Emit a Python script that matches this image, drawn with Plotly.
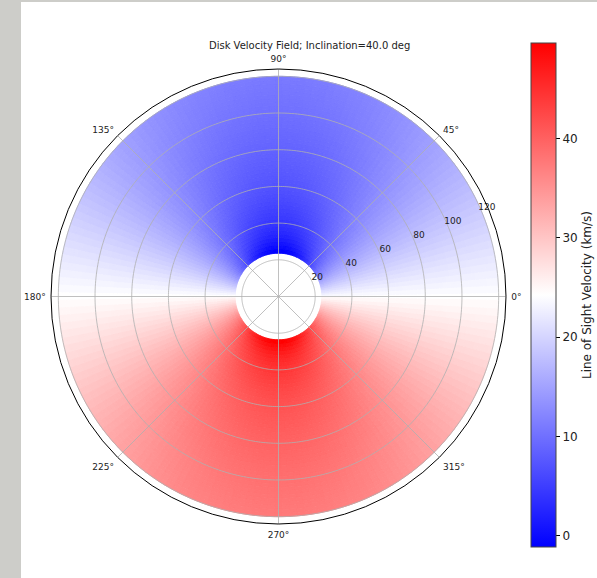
import numpy as np
import plotly.graph_objects as go

W, H = 597, 578
MR = 60                 # right margin reserved for the colorbar
PW = W - MR             # paper width in pixels

# Projected (line-of-sight) rotation amplitude for each annulus of the disk, km/s
ring_inner = [23.6, 26, 28, 30, 32, 34, 36, 38, 40, 42, 44, 46, 48, 50, 52, 54,
              56, 58, 60, 62, 64, 66, 68, 70, 72, 74, 76, 78, 80, 82, 84, 86,
              88, 90, 92, 94, 96, 98, 100, 102, 104, 106, 108, 110, 112, 114, 116, 118]
los_amplitude = [25.4, 24.3, 23.4, 22.6, 21.9, 21.3, 20.8, 20.3, 19.9, 19.5, 19.2, 18.9,
                 18.6, 18.3, 18.0, 17.8, 17.5, 17.3, 17.1, 16.9, 16.7, 16.55, 16.4, 16.25,
                 16.1, 15.95, 15.8, 15.65, 15.5, 15.35, 15.2, 15.1, 15.0, 14.85, 14.7, 14.6,
                 14.5, 14.35, 14.2, 14.1, 14.0, 13.9, 13.8, 13.7, 13.6, 13.5, 13.4, 13.3]
disk_outer_radius = 120
systemic_velocity = 24.25
inclination_deg = 40.0

# Azimuthal cells (degrees)
theta_step = 2
theta_centres = np.arange(0, 360, theta_step)

radial_ticks = [20, 40, 60, 80, 100, 120]
angle_ticks = [0, 45, 90, 135, 180, 225, 270, 315]
colorbar_ticks = [0, 10, 20, 30, 40]
r_max = 124
label_angle = 22.5

GRID = "#b0b0b0"
FONT = "DejaVu Sans"

ring_edges = list(ring_inner) + [disk_outer_radius]
ring_widths = np.diff(ring_edges)

# Build the velocity field: receding side at 270°, approaching side at 90°
thetas, bases, lengths, values = [], [], [], []
for r0, dr, amp in zip(ring_inner, ring_widths, los_amplitude):
    v = systemic_velocity - amp * np.sin(np.radians(theta_centres))
    thetas.append(theta_centres)
    bases.append(np.full(theta_centres.size, r0))
    lengths.append(np.full(theta_centres.size, dr))
    values.append(v)
thetas = np.concatenate(thetas)
bases = np.concatenate(bases)
lengths = np.concatenate(lengths)
values = np.concatenate(values)

vmin, vmax = values.min(), values.max()
bwr = [[0.0, "rgb(0,0,255)"], [0.5, "rgb(255,255,255)"], [1.0, "rgb(255,0,0)"]]

fig = go.Figure()
fig.add_trace(go.Barpolar(
    theta=thetas,
    r=lengths,
    base=bases,
    width=np.full(thetas.size, theta_step),
    marker=dict(
        color=values, colorscale=bwr, cmin=vmin, cmax=vmax,
        line=dict(color=values, colorscale=bwr, cmin=vmin, cmax=vmax, width=1),
        colorbar=dict(
            x=531 / PW, xanchor="left", xpad=0, ypad=0, thickness=25,
            y=1 - 295 / H, yanchor="middle", len=504 / H, lenmode="fraction",
            tickvals=colorbar_ticks, ticks="outside", ticklen=4, tickcolor="black",
            tickfont=dict(family=FONT, size=12, color="#222"),
            outlinecolor="#444", outlinewidth=1,
            title=dict(text="Line of Sight Velocity (km/s)", side="right",
                       font=dict(family=FONT, size=12, color="#222")),
        ),
    ),
    hoverinfo="skip",
    showlegend=False,
))

# Grid drawn over the field: rings at the radial ticks and spokes at the angular ticks
ring_theta = np.arange(0, 361, 1)
for rt in radial_ticks:
    fig.add_trace(go.Scatterpolar(
        r=np.full(ring_theta.size, rt), theta=ring_theta, mode="lines",
        line=dict(color=GRID, width=0.8), hoverinfo="skip", showlegend=False))
for at in angle_ticks:
    fig.add_trace(go.Scatterpolar(
        r=[0, r_max], theta=[at, at], mode="lines",
        line=dict(color=GRID, width=0.8), hoverinfo="skip", showlegend=False))

# Horizontal radial tick labels, nudged up and to the right of the grid rings
nudge = 2.7
lx = np.array(radial_ticks) * np.cos(np.radians(label_angle)) + nudge
ly = np.array(radial_ticks) * np.sin(np.radians(label_angle)) + nudge
fig.add_trace(go.Scatterpolar(
    r=np.hypot(lx, ly), theta=np.degrees(np.arctan2(ly, lx)),
    mode="text", text=[str(t) for t in radial_ticks], textposition="middle center",
    textfont=dict(family=FONT, size=9, color="#222"),
    hoverinfo="skip", showlegend=False))

fig.update_layout(
    width=W, height=H,
    margin=dict(l=0, r=MR, t=0, b=0),
    paper_bgcolor="white",
    bargap=0,
    title=dict(text="Disk Velocity Field; Inclination=%.1f deg" % inclination_deg,
               x=278.5 / PW, xanchor="center", y=1 - 45 / H, yanchor="middle",
               font=dict(family=FONT, size=10, color="#222")),
    polar=dict(
        domain=dict(x=[51 / PW, 506 / PW], y=[54 / H, 509 / H]),
        bgcolor="white",
        bargap=0,
        angularaxis=dict(
            direction="counterclockwise", rotation=0,
            tickmode="array", tickvals=angle_ticks,
            ticktext=["%d°" % a for a in angle_ticks],
            showline=True, linecolor="black", linewidth=1,
            showgrid=False,
            ticks="outside", ticklen=3, tickcolor="rgba(0,0,0,0)",
            tickfont=dict(family=FONT, size=9, color="#222"),
        ),
        radialaxis=dict(
            range=[0, r_max], tickmode="array", tickvals=radial_ticks,
            angle=label_angle, showline=False, ticks="", showgrid=False,
            showticklabels=False,
        ),
    ),
    shapes=[
        dict(type="rect", xref="paper", yref="paper", x0=0, x1=21 / PW, y0=0, y1=1,
             fillcolor="#cdcdc9", line=dict(width=0), layer="below"),
        dict(type="rect", xref="paper", yref="paper", x0=0, x1=W / PW, y0=1 - 2 / H, y1=1,
             fillcolor="#cdcdc9", line=dict(width=0), layer="below"),
    ],
)

fig.write_html("out.html")
